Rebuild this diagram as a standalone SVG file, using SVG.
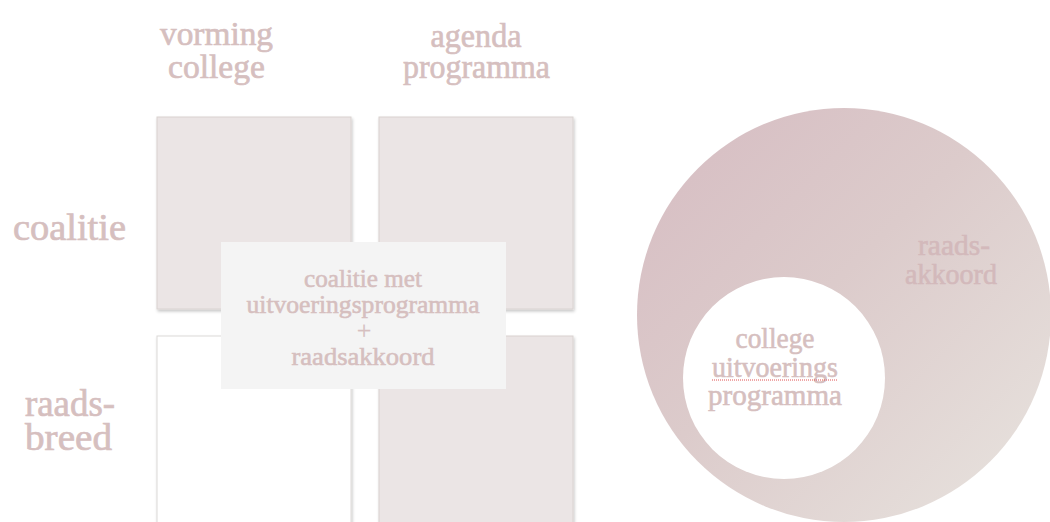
<svg xmlns="http://www.w3.org/2000/svg" width="1050" height="522" viewBox="0 0 1050 522">
  <style>
    .lbl { font-family: "Liberation Serif", "Times New Roman", serif; fill: #d6bfbf; stroke: #d6bfbf; stroke-width: 0.7px; }
    .hdr { font-size: 34px; }
    .row { font-size: 37px; }
    .mid { font-size: 26px; stroke-width: 0.6px; }
    .circ { font-size: 29px; stroke-width: 0.6px; }
    .card { fill: #ebe5e5; stroke: #d9d2d0; stroke-width: 1; filter: url(#shadow); }
    .card-empty { fill: #ffffff; stroke: #dcd9d8; stroke-width: 1; filter: url(#shadow); }
  </style>
  <defs>
    <filter id="shadow" x="-10%" y="-10%" width="125%" height="125%">
      <feDropShadow dx="1" dy="2" stdDeviation="1.5" flood-color="#000000" flood-opacity="0.22"/>
    </filter>
    <linearGradient id="ringFill" x1="0" y1="0" x2="1" y2="1">
      <stop offset="0" stop-color="#d6bcc2"/>
      <stop offset="0.45" stop-color="#dccbcb"/>
      <stop offset="1" stop-color="#e8e4df"/>
    </linearGradient>
  </defs>
  <rect width="1050" height="522" fill="#ffffff"/>

  <!-- column headers -->
  <g id="col-vorming">
    <text class="lbl hdr" x="216.5" y="45" text-anchor="middle" textLength="113" lengthAdjust="spacingAndGlyphs">vorming</text>
    <text class="lbl hdr" x="216.5" y="78" text-anchor="middle" textLength="97" lengthAdjust="spacingAndGlyphs">college</text>
  </g>
  <g id="col-agenda">
    <text class="lbl hdr" x="476" y="47" text-anchor="middle" textLength="91" lengthAdjust="spacingAndGlyphs">agenda</text>
    <text class="lbl hdr" x="476.5" y="78" text-anchor="middle" textLength="147" lengthAdjust="spacingAndGlyphs">programma</text>
  </g>

  <!-- row headers -->
  <g id="row-coalitie">
    <text class="lbl row" x="13" y="240" textLength="113" lengthAdjust="spacingAndGlyphs">coalitie</text>
  </g>
  <g id="row-raadsbreed">
    <text class="lbl row" x="25" y="416" textLength="90" lengthAdjust="spacingAndGlyphs">raads-</text>
    <text class="lbl row" x="25" y="450" textLength="87" lengthAdjust="spacingAndGlyphs">breed</text>
  </g>

  <!-- matrix cells -->
  <g id="cell-coalitie-vorming"><rect class="card" x="157" y="117" width="194" height="192"/></g>
  <g id="cell-coalitie-agenda"><rect class="card" x="379" y="117" width="194" height="192"/></g>
  <g id="cell-raad-vorming"><rect class="card-empty" x="157" y="336" width="194" height="200"/></g>
  <g id="cell-raad-agenda"><rect class="card" x="379" y="336" width="194" height="200"/></g>

  <!-- overlay label -->
  <g id="combined">
    <rect x="221" y="242" width="285" height="147" fill="#f4f4f4"/>
    <text class="lbl mid" x="363" y="287" text-anchor="middle" textLength="118" lengthAdjust="spacingAndGlyphs">coalitie met</text>
    <text class="lbl mid" x="363" y="313" text-anchor="middle" textLength="233" lengthAdjust="spacingAndGlyphs">uitvoeringsprogramma</text>
    <text class="lbl mid" x="364" y="339" text-anchor="middle" style="stroke-width:0.2px">+</text>
    <text class="lbl mid" x="363" y="365" text-anchor="middle" textLength="143" lengthAdjust="spacingAndGlyphs">raadsakkoord</text>
  </g>

  <!-- nested circles -->
  <g id="raadsakkoord">
    <circle cx="844" cy="315" r="207" fill="url(#ringFill)"/>
    <text class="lbl circ" x="954" y="255" text-anchor="middle" textLength="72" lengthAdjust="spacingAndGlyphs" style="fill:#d3b9bb;stroke:#d3b9bb">raads-</text>
    <text class="lbl circ" x="951" y="284" text-anchor="middle" textLength="92" lengthAdjust="spacingAndGlyphs" style="fill:#d3b9bb;stroke:#d3b9bb">akkoord</text>
  </g>
  <g id="uitvoeringsprogramma">
    <circle cx="784" cy="378" r="101" fill="#ffffff"/>
    <text class="lbl circ" x="775" y="348" text-anchor="middle" textLength="79" lengthAdjust="spacingAndGlyphs">college</text>
    <text class="lbl circ" x="775" y="377" text-anchor="middle" textLength="126" lengthAdjust="spacingAndGlyphs">uitvoerings</text>
    <line x1="712" y1="380" x2="838" y2="380" stroke="#e05050" stroke-width="1" stroke-dasharray="1 1"/>
    <text class="lbl circ" x="775" y="405" text-anchor="middle" textLength="134" lengthAdjust="spacingAndGlyphs">programma</text>
  </g>

  <g id="connectors"/>
</svg>
